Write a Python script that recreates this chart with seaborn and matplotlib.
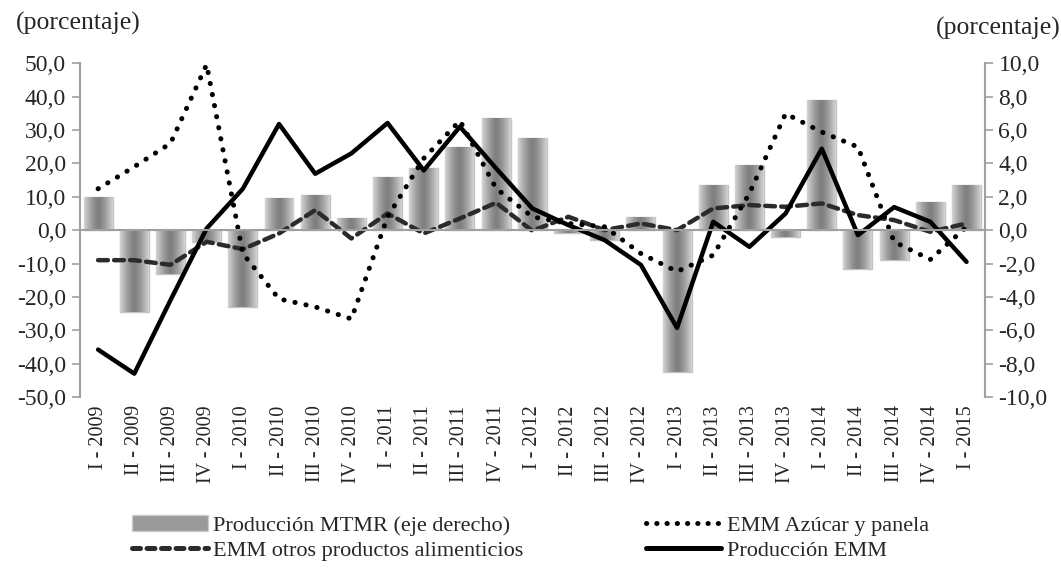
import numpy as np
import pandas as pd
import matplotlib
matplotlib.use("Agg")
import matplotlib.pyplot as plt
import seaborn as sns
from matplotlib.patches import Patch
from matplotlib.lines import Line2D

# trimestres
quarters = ["I", "II", "III", "IV"]
labels = [f"{q} - {y}" for y in range(2009, 2016) for q in quarters][:25]

# Producción MTMR (eje derecho)
mtmr = [2.0, -4.9, -2.6, -0.7, -4.6, 1.9, 2.1, 0.7, 3.2, 3.7, 5.0, 6.7, 5.5,
        -0.2, -0.6, 0.8, -8.5, 2.7, 3.9, -0.4, 7.8, -2.3, -1.8, 1.7, 2.7]
# EMM Azúcar y panela
azucar = [12.4, 19.0, 26.0, 49.6, -7.0, -20.6, -23.0, -26.6, 4.0, 21.5, 32.8, 12.5, 4.0,
          2.0, 1.0, -7.0, -12.4, -7.5, 11.0, 34.9, 29.4, 24.9, -3.5, -8.8, 1.0]
# EMM otros productos alimenticios
otros = [-9.0, -9.0, -10.4, -3.5, -5.7, -1.0, 6.0, -2.5, 5.0, -1.0, 3.5, 8.2, -0.2,
         4.0, 0.0, 2.0, 0.0, 6.5, 7.5, 7.0, 8.0, 4.5, 3.0, -0.5, 2.0]
# Producción EMM
emm = [-35.8, -43.0, -21.0, 0.5, 12.4, 31.8, 16.9, 23.0, 32.1, 17.9, 31.0, 18.5, 6.5,
       1.5, -3.0, -10.4, -29.3, 2.5, -5.0, 5.0, 24.4, -1.5, 6.9, 2.5, -9.5]

sns.set_theme(style="white")
plt.rcParams['font.family'] = ['Liberation Serif', 'DejaVu Serif']
plt.rcParams['font.size'] = 15

n = len(labels)
pos = np.arange(n)
df = pd.DataFrame({"pos": pos, "label": labels, "mtmr": mtmr,
                   "azucar": azucar, "otros": otros, "emm": emm})

fig = plt.figure(figsize=(10.61, 5.70), dpi=100)
ax = fig.add_axes([0.0754, 0.3035, 0.8526, 0.5855])
ax2 = ax.twinx()

# barras en eje derecho
sns.barplot(data=df, x="pos", y="mtmr", ax=ax2, color="#8a8a8a", width=0.8,
            edgecolor="#c4c4c4", linewidth=1.0, native_scale=True)
grad = np.linspace(0, 1, 64)
prof = 0.50 + 0.33 * np.abs(2 * grad - 1) ** 1.4
img = np.tile(prof, (2, 1))
for p in ax2.patches:
    x0, y0 = p.get_x(), p.get_y()
    w, h = p.get_width(), p.get_height()
    im = ax2.imshow(img, extent=[x0, x0 + w, y0, y0 + h], cmap="gray", vmin=0, vmax=1,
                    aspect="auto", zorder=p.get_zorder() + 0.1)
    im.set_clip_path(p)

# líneas en eje izquierdo
sns.lineplot(data=df, x="pos", y="otros", ax=ax, color="#2b2b2b", lw=3.2,
             dashes=False, legend=False)
ax.lines[-1].set_dashes([2.2, 1.4])
ax.lines[-1].set_dash_capstyle("round")
sns.lineplot(data=df, x="pos", y="azucar", ax=ax, color="black", lw=3.6, legend=False)
ax.lines[-1].set_dashes([0.05, 2.2])
ax.lines[-1].set_dash_capstyle("round")
sns.lineplot(data=df, x="pos", y="emm", ax=ax, color="black", lw=3.2, legend=False)

ax.set_zorder(ax2.get_zorder() + 1)
ax.patch.set_visible(False)

ax.set_xlim(-0.5, n - 0.5)
ax2.set_xlim(-0.5, n - 0.5)
ax.set_ylim(-50, 50)
ax2.set_ylim(-10, 10)
ax.set_yticks(np.arange(-50, 51, 10))
ax.set_yticklabels([f"{v:.1f}".replace(".", ",") for v in np.arange(-50, 51, 10)])
ax2.set_yticks(np.arange(-10, 11, 2))
ax2.set_yticklabels([f"{v:.1f}".replace(".", ",") for v in np.arange(-10, 11, 2)])

gray = "#a0a0a0"
for s in ["top", "right"]:
    ax.spines[s].set_visible(False)
for s in ["top", "left", "bottom"]:
    ax2.spines[s].set_visible(False)
ax.spines["left"].set_color(gray)
ax.spines["left"].set_linewidth(1.5)
ax2.spines["right"].set_color(gray)
ax2.spines["right"].set_linewidth(1.5)
ax.spines["bottom"].set_position(("data", 0))
ax.spines["bottom"].set_color(gray)
ax.spines["bottom"].set_linewidth(1.5)

ax.set_xticks(np.arange(n + 1) - 0.5)
ax.set_xticklabels([])
ax2.set_xticks([])
ax.tick_params(axis="x", direction="out", length=5, width=1.2, color=gray, bottom=True)
ax.tick_params(axis="y", direction="out", length=6, width=1.2, color=gray, left=True,
               labelsize=17, pad=4)
ax2.tick_params(axis="y", direction="out", length=6, width=1.2, color=gray, right=True,
                labelsize=17, pad=4)
ax.set_xlabel("")
ax.set_ylabel("")
ax2.set_xlabel("")
ax2.set_ylabel("")

for i, lab in enumerate(labels):
    ax.text(i, -0.025, lab, transform=ax.get_xaxis_transform(), rotation=90,
            ha="center", va="top", fontsize=14.5)

fig.text(0.015, 0.958, "(porcentaje)", fontsize=18.5, va="center", ha="left")
fig.text(0.9995, 0.95, "(porcentaje)", fontsize=18.5, va="center", ha="right")

handles = [
    Patch(facecolor="#9a9a9a", edgecolor="#cccccc", linewidth=1.0),
    Line2D([], [], color="#2b2b2b", lw=3.6, dashes=[1.6, 1.3], dash_capstyle="round"),
    Line2D([], [], color="black", lw=3.6, dashes=[0.05, 2.0], dash_capstyle="round"),
    Line2D([], [], color="black", lw=3.6),
]
names = ["Producción MTMR (eje derecho)", "EMM otros productos alimenticios",
         "EMM Azúcar y panela", "Producción EMM"]
fig.legend(handles, names, loc="center", bbox_to_anchor=(0.5, 0.056), ncol=2,
           frameon=False, fontsize=16, handlelength=3.4, handletextpad=0.25,
           columnspacing=5.5, labelspacing=0.2)

fig.savefig("out.png", dpi=100)
